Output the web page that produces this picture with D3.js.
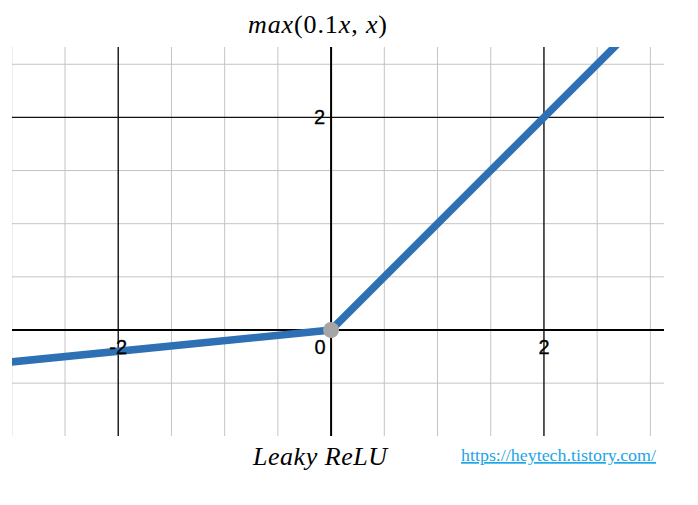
<!DOCTYPE html>
<html><head><meta charset="utf-8">
<script src="https://cdn.jsdelivr.net/npm/d3@7"></script>
<style>html,body{margin:0;padding:0;background:#fff;}</style>
</head><body>
<script>
// Data
const lineX = [-3.2, 0, 2.7];
const lineY = [-0.32, 0, 2.7];
const xMinorTicks = [-3, -2.5, -1.5, -1, -0.5, 0.5, 1, 1.5, 2.5, 3];
const yMinorTicks = [-0.5, 0.5, 1, 1.5, 2.5];
const xMajorTicks = [-2, 2];
const yMajorTicks = [2];
const xTickLabels = ["-2", "0", "2"];
const xTickValues = [-2, 0, 2];
const yTickLabels = ["2"];
const yTickValues = [2];
// title pieces: [text, italic?]
const titleParts = [["max", true], ["(0.1", false], ["x", true], [", ", false], ["x", true], [")", false]];
const caption = "Leaky ReLU";
const url = "https://heytech.tistory.com/";

const W = 698, H = 505;
const plot = {left: 12, right: 664, top: 47, bottom: 436};
const x = d3.scaleLinear().domain([-3, 3.128]).range([11.8, 664]);
const y = d3.scaleLinear().domain([0, 2]).range([330, 117.4]);

const svg = d3.select("body").append("svg").attr("width", W).attr("height", H);
svg.append("defs").append("clipPath").attr("id", "clip")
  .append("rect").attr("x", plot.left).attr("y", plot.top)
  .attr("width", plot.right - plot.left).attr("height", plot.bottom - plot.top);

const g = svg.append("g").attr("clip-path", "url(#clip)");

// minor grid
g.selectAll(".vminor").data(xMinorTicks).enter().append("line")
  .attr("x1", d => x(d)).attr("x2", d => x(d)).attr("y1", plot.top).attr("y2", plot.bottom)
  .attr("stroke", "#c4c4c4").attr("stroke-width", 1);
g.selectAll(".hminor").data(yMinorTicks).enter().append("line")
  .attr("y1", d => y(d)).attr("y2", d => y(d)).attr("x1", plot.left).attr("x2", plot.right)
  .attr("stroke", "#c4c4c4").attr("stroke-width", 1);
// major grid
g.selectAll(".vmajor").data(xMajorTicks).enter().append("line")
  .attr("x1", d => x(d)).attr("x2", d => x(d)).attr("y1", plot.top).attr("y2", plot.bottom)
  .attr("stroke", "#111").attr("stroke-width", 1.4);
g.selectAll(".hmajor").data(yMajorTicks).enter().append("line")
  .attr("y1", d => y(d)).attr("y2", d => y(d)).attr("x1", plot.left).attr("x2", plot.right)
  .attr("stroke", "#111").attr("stroke-width", 1.4);
// axes
g.append("line").attr("x1", x(0)).attr("x2", x(0)).attr("y1", plot.top).attr("y2", plot.bottom)
  .attr("stroke", "#000").attr("stroke-width", 2);
g.append("line").attr("y1", y(0)).attr("y2", y(0)).attr("x1", plot.left).attr("x2", plot.right)
  .attr("stroke", "#000").attr("stroke-width", 2);

// tick labels
const tickFont = "Liberation Sans, Arial, sans-serif";
svg.selectAll(".xl").data(xTickValues).enter().append("text")
  .attr("x", (d, i) => d === 0 ? x(0) - 11 : x(d))
  .attr("y", y(0) + 24)
  .attr("text-anchor", "middle")
  .attr("font-family", tickFont).attr("font-size", 20).attr("fill", "#000")
  .attr("stroke", "#000").attr("stroke-width", 0.3)
  .text((d, i) => xTickLabels[i]);
svg.selectAll(".yl").data(yTickValues).enter().append("text")
  .attr("x", x(0) - 6).attr("y", d => y(d) + 7)
  .attr("text-anchor", "end")
  .attr("font-family", tickFont).attr("font-size", 20).attr("fill", "#000")
  .attr("stroke", "#000").attr("stroke-width", 0.3)
  .text((d, i) => yTickLabels[i]);

// line
const pts = lineX.map((d, i) => [d, lineY[i]]);
g.append("path").datum(pts)
  .attr("d", d3.line().x(d => x(d[0])).y(d => y(d[1])))
  .attr("fill", "none").attr("stroke", "#2d70b3").attr("stroke-width", 7.5)
  .attr("stroke-linejoin", "round");
svg.append("circle").attr("cx", x(0)).attr("cy", y(0)).attr("r", 8).attr("fill", "#a6a6a6");

// texts
const t = svg.append("text").attr("x", 248).attr("y", 33)
  .attr("font-family", "Liberation Serif, serif")
  .attr("font-size", 26).attr("fill", "#000")
  .attr("textLength", 139).attr("lengthAdjust", "spacing");
titleParts.forEach(p => t.append("tspan").attr("font-style", p[1] ? "italic" : "normal").text(p[0]));

svg.append("text").attr("x", 253).attr("y", 465)
  .attr("font-family", "Liberation Serif, serif").attr("font-style", "italic")
  .attr("font-size", 26).attr("fill", "#000")
  .attr("textLength", 134).attr("lengthAdjust", "spacing").text(caption);
svg.append("text").attr("x", 461).attr("y", 461)
  .attr("font-family", "Liberation Serif, serif")
  .attr("font-size", 17).attr("fill", "#1ea5e6").attr("text-decoration", "underline")
  .attr("textLength", 195).attr("lengthAdjust", "spacingAndGlyphs").text(url);
</script>
</body></html>
